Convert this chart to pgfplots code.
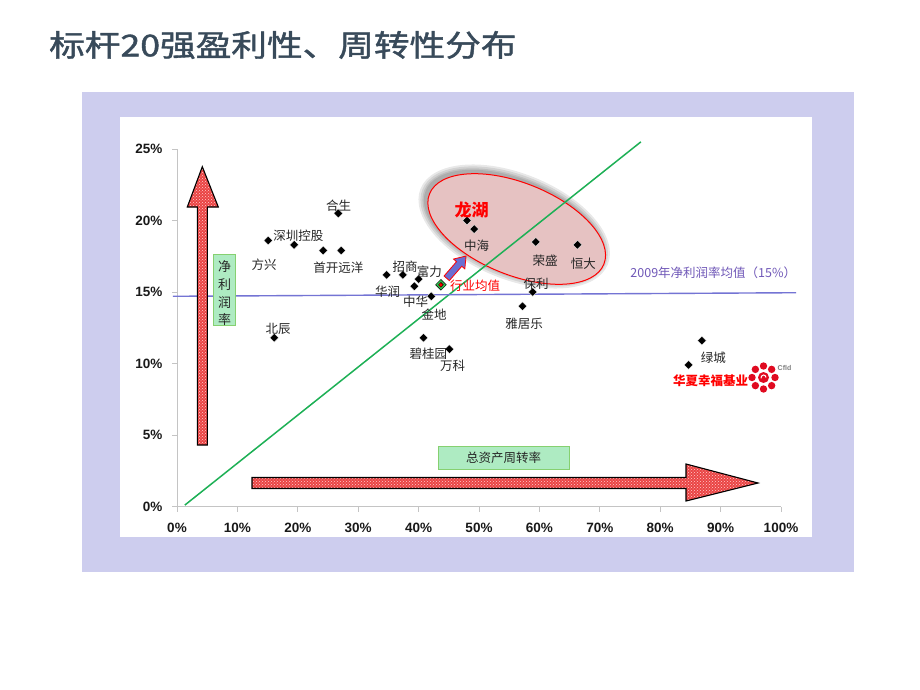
\documentclass[border=0pt]{standalone}
\usepackage{fontspec}
\setmainfont{Noto Sans CJK SC}
\newfontfamily\titlefont[FakeBold=1.3]{Noto Sans CJK SC}
\newfontfamily\arial{Liberation Sans}
\usepackage{pgfplots}
\pgfplotsset{compat=1.18}
\usetikzlibrary{patterns}
\definecolor{framec}{HTML}{CDCDEE}
\definecolor{titlec}{HTML}{384A5A}
\definecolor{axisgray}{HTML}{C4C4C4}
\definecolor{trendgreen}{HTML}{1DB055}
\definecolor{avgblue}{HTML}{7474D4}
\definecolor{ellc}{HTML}{E6C2C2}
\definecolor{arrowred}{HTML}{EA4444}
\definecolor{boxgreen}{HTML}{AEEBC2}
\definecolor{boxedge}{HTML}{86D070}
\definecolor{purp}{HTML}{7058B8}
\definecolor{smallblue}{HTML}{6A6ED2}
\definecolor{logored}{HTML}{E00A20}
\definecolor{mkgreen}{HTML}{2EC050}
\begin{document}
\begin{tikzpicture}
\begin{scope}[x=1pt,y=-1pt]
\useasboundingbox (0,0) rectangle (920,690);
\fill[white] (0,0) rectangle (920,690);
\fill[framec] (82,92) rectangle (854,572);
\fill[white] (120,117) rectangle (812,537);
\node[anchor=west, text=titlec, inner sep=0, font=\titlefont\fontsize{31}{34}\selectfont] at (49,45) {\scalebox{1.15}[0.97]{标杆20强盈利性、周转性分布}};
% ellipse with soft shadow
\foreach \k in {7,5,3,1.5} {
  \fill[black, opacity=0.09, rotate around={-22:(514.2,226.5)}] (514.2,226.5) ellipse [x radius={(94+\k)*1pt}, y radius={(46+\k)*1pt}];
}
\draw[red, line width=1pt, fill=ellc, rotate around={-22:(516.7,229)}] (516.7,229) ellipse [x radius=94pt, y radius=46pt];
\end{scope}

\begin{axis}[
  at={(177pt,-506.5pt)}, anchor=south west,
  scale only axis, width=604pt, height=357.5pt,
  xmin=0, xmax=100, ymin=0, ymax=25,
  axis lines=left, axis line style={-, draw=axisgray, line width=0.8pt},
  xtick={0,10,...,100}, ytick={0,5,...,25},
  tick align=outside, major tick length=5pt,
  tick style={draw=axisgray, line width=0.8pt},
  xticklabel={\pgfmathprintnumber{\tick}\%},
  yticklabel={\pgfmathprintnumber{\tick}\%},
  /pgf/number format/assume math mode=true,
  ticklabel style={font=\arial\bfseries\fontsize{13.5}{16}\selectfont, text=black!90},
  xticklabel style={yshift=-8.5pt},
  yticklabel style={xshift=-6pt},
  clip=false,
]
\addplot[trendgreen, line width=1.5pt] coordinates {(1.3,0.1) (76.8,25.5)};
\addplot[avgblue, line width=1.4pt] coordinates {(-0.7,14.7) (102.5,14.95)};
\addplot[only marks, mark=square*, mark size=3.1pt,
  mark options={rotate=45, fill=black, draw=white, line width=0.3pt}] coordinates {
  (15.1,18.6) (19.4,18.3) (24.2,17.9) (27.2,17.9) (26.7,20.5)
  (34.7,16.2) (37.4,16.2) (40.0,15.9) (39.3,15.4) (42.1,14.7)
  (16.1,11.8) (40.8,11.8) (45.1,11.0)
  (48.0,20.0) (49.2,19.4) (59.4,18.5) (66.3,18.3)
  (58.9,15.0) (57.2,14.0) (86.9,11.6) (84.7,9.9)
};
\addplot[only marks, mark=square*, mark size=3.8pt,
  mark options={rotate=45, fill=mkgreen, draw=none}] coordinates {(43.7,15.5)};
\addplot[only marks, mark=square*, mark size=1.7pt,
  mark options={rotate=45, fill=red, draw=none}] coordinates {(43.7,15.5)};
\end{axis}

\begin{scope}[x=1pt,y=-1pt]
% vertical arrow
\draw[line width=1.1pt, black, preaction={fill=arrowred}, pattern=crosshatch dots, pattern color=white!80!red]
  (197.3,445) -- (207.3,445) -- (207.3,207) -- (218.3,207) -- (202.3,166.7) -- (187.3,207) -- (197.3,207) -- cycle;
% horizontal arrow
\draw[line width=1.1pt, black, preaction={fill=arrowred}, pattern=crosshatch dots, pattern color=white!80!red]
  (252,477.5) -- (686,477.5) -- (686,464) -- (758,483) -- (686,501) -- (686,488.5) -- (252,488.5) -- cycle;
% boxes
\draw[boxedge, fill=boxgreen, line width=0.8pt] (213.3,254.3) rectangle (235.7,325.7);
\node[align=center, inner sep=0, font=\fontsize{13}{17.7}\selectfont, text=black!85] at (224.5,293.5) {净\\利\\润\\率};
\draw[boxedge, fill=boxgreen, line width=0.8pt] (438,446) rectangle (569,469);
\node[inner sep=0, font=\fontsize{12.5}{14}\selectfont, text=black!85] at (503.5,457.5) {总资产周转率};
% small blue arrow
\draw[red, line width=0.8pt, fill=smallblue, shift={(446.7,278.3)}, rotate=49]
  (0,-3.5) -- (19,-3.5) -- (19,-7.5) -- (29.5,0) -- (19,7.5) -- (19,3.5) -- (0,3.5) -- cycle;
% labels
\begin{scope}[every node/.style={inner sep=0, font=\fontsize{12.5}{14}\selectfont, text=black!85}]
\node at (338.7,206) {合生};
\node at (298.3,235.7) {深圳控股};
\node at (264,264.7) {方兴};
\node at (338.3,267.7) {首开远洋};
\node at (405,266.7) {招商};
\node at (429.3,271.7) {富力};
\node at (387.7,292) {华润};
\node at (415.7,301.3) {中华};
\node at (434,314.3) {金地};
\node at (278,329) {北辰};
\node at (428.3,354) {碧桂园};
\node at (452.7,365.7) {万科};
\node[text=red] at (475,285.3) {行业均值};
\node at (476.7,245.7) {中海};
\node at (545,261) {荣盛};
\node at (583.3,264) {恒大};
\node[text=purp] at (713.3,272.7) {2009年净利润率均值（15\%）};
\node at (536,284) {保利};
\node at (524,324) {雅居乐};
\node at (713.3,357.3) {绿城};
\node[text=red, font=\bfseries\fontsize{17}{19}\selectfont] at (471.7,210) {龙湖};
\node[text=red, font=\bfseries\fontsize{12.5}{14}\selectfont] at (710.5,380.5) {华夏幸福基业};
\end{scope}
% logo
\foreach \a in {0,45,...,315} {
  \fill[logored, shift={(763.5,377.5)}] (\a:11.5) circle (3.7pt);
}
\fill[logored] (763.5,377.5) circle (5.5pt);
\draw[white, line width=1pt] (766,377.5) arc[start angle=0, end angle=200, radius=2.5pt];
\node[text=gray, inner sep=0, font=\arial\bfseries\fontsize{7}{8}\selectfont] at (784.5,368) {Cfld};
\end{scope}
\end{tikzpicture}
\end{document}
